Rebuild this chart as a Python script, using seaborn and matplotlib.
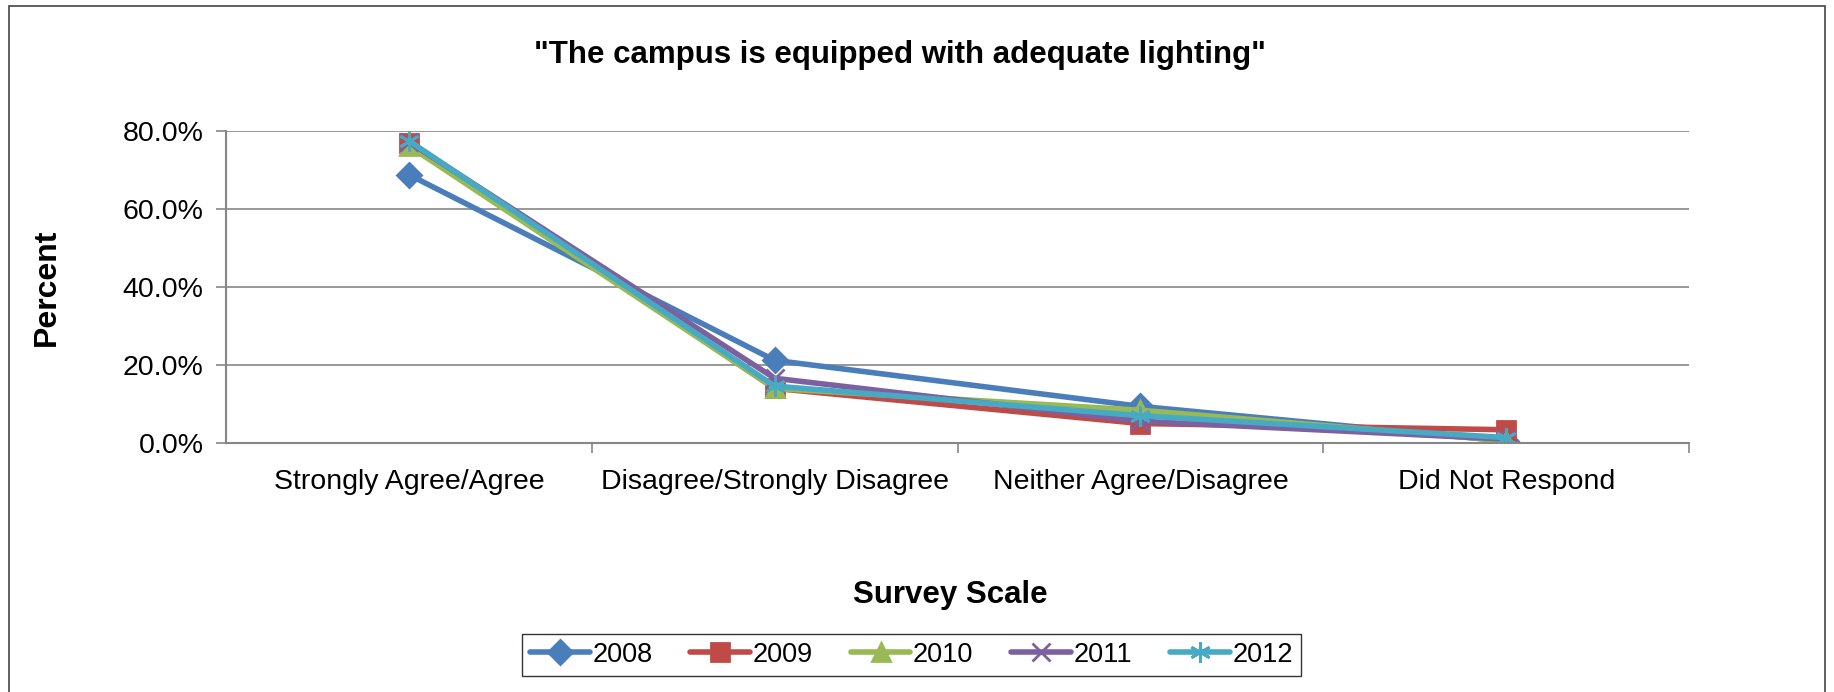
import matplotlib
matplotlib.use("Agg")
import matplotlib.pyplot as plt
from matplotlib.patches import Rectangle
from matplotlib.ticker import FuncFormatter, FixedLocator
import pandas as pd
import seaborn as sns

CATEGORIES = ["Strongly Agree/Agree", "Disagree/Strongly Disagree",
              "Neither Agree/Disagree", "Did Not Respond"]
YEARS = ["2008", "2009", "2010", "2011", "2012"]
VALUES_2008 = [68.8, 21.2, 9.4, 0.5]
VALUES_2009 = [77.0, 14.0, 5.0, 3.4]
VALUES_2010 = [76.2, 14.0, 8.4, 0.6]
VALUES_2011 = [77.2, 16.6, 5.6, 1.0]
VALUES_2012 = [77.5, 14.6, 7.0, 1.4]

COLORS = ["#4A7EBB", "#BE4B48", "#98B954", "#7D60A0", "#46AAC5"]
MARKERS = ["D", "s", "^", "x", (6, 2, 0)]
MSIZES = [12, 13, 13, 13, 15]

sns.set_theme(style="white", rc={"text.color": "black", "xtick.color": "black",
                                 "ytick.color": "black", "axes.labelcolor": "black"})
plt.rcParams["font.family"] = ["Liberation Sans", "DejaVu Sans"]

series = [VALUES_2008, VALUES_2009, VALUES_2010, VALUES_2011, VALUES_2012]
rows = []
for year, vals in zip(YEARS, series):
    for i, v in enumerate(vals):
        rows.append({"pos": i, "category": CATEGORIES[i], "year": year, "percent": v})
df = pd.DataFrame(rows)

fig = plt.figure(figsize=(18.34, 6.92), dpi=100)
ax = fig.add_axes([0.1232, 0.3598, 0.7978, 0.4509])

for year, color, marker, ms in zip(YEARS, COLORS, MARKERS, MSIZES):
    sns.lineplot(
        data=df[df["year"] == year], x="pos", y="percent", color=color,
        marker=marker, markersize=ms, markeredgecolor=color, markeredgewidth=2.0,
        linewidth=4.0, label=year, ax=ax,
    )

ax.set_xlim(-0.5, 3.5)
ax.set_ylim(0, 80)
ax.set_yticks([0, 20, 40, 60, 80])
ax.yaxis.set_major_formatter(FuncFormatter(lambda v, _: f"{v:.1f}%"))
ax.xaxis.set_major_locator(FixedLocator([0.5, 1.5, 2.5, 3.5]))
ax.set_xticklabels([])
ax.xaxis.set_minor_locator(FixedLocator([0, 1, 2, 3]))
ax.set_xticklabels(CATEGORIES, minor=True)
ax.tick_params(axis="x", which="major", length=7, width=1.2, color="#868686", direction="out", bottom=True)
ax.tick_params(axis="x", which="minor", length=0, labelsize=20.5, pad=19, labelcolor="black")
ax.tick_params(axis="y", length=7, width=1.2, color="#868686", direction="out", left=True,
               labelsize=20.5, pad=9, labelcolor="black")
ax.grid(axis="y", color="#868686", linewidth=1.2)
ax.set_axisbelow(True)
for s in ["top", "right"]:
    ax.spines[s].set_visible(False)
for s in ["left", "bottom"]:
    ax.spines[s].set_color("#868686")
    ax.spines[s].set_linewidth(1.5)

ax.set_xlabel("")
ax.set_ylabel("")
fig.text(0.0256, 0.585, "Percent", rotation=90, ha="center", va="center",
         fontsize=23, fontweight="bold", color="black")
fig.text(0.518, 0.14, "Survey Scale", ha="center", va="center",
         fontsize=22.5, fontweight="bold", color="black")
fig.text(0.4906, 0.92, '"The campus is equipped with adequate lighting"',
         ha="center", va="center", fontsize=22.5, fontweight="bold", color="black")

handles, labels = ax.get_legend_handles_labels()
ax.get_legend().remove()
leg = fig.legend(handles, labels, loc="center", bbox_to_anchor=(0.497, 0.0535),
                 ncol=5, fontsize=19.5, frameon=True, fancybox=False,
                 handlelength=2.2, columnspacing=1.4, handletextpad=0.1,
                 borderpad=0.3, borderaxespad=0)
leg.get_frame().set_edgecolor("black")
leg.get_frame().set_linewidth(1.0)
for t in leg.get_texts():
    t.set_color("black")

fig.patches.append(Rectangle((9 / 1834, -0.01), 1 - 18 / 1834, 1 - 6 / 692 + 0.01,
                             transform=fig.transFigure, fill=False,
                             edgecolor="#444444", linewidth=1.2))

fig.savefig("out.png", dpi=100)
